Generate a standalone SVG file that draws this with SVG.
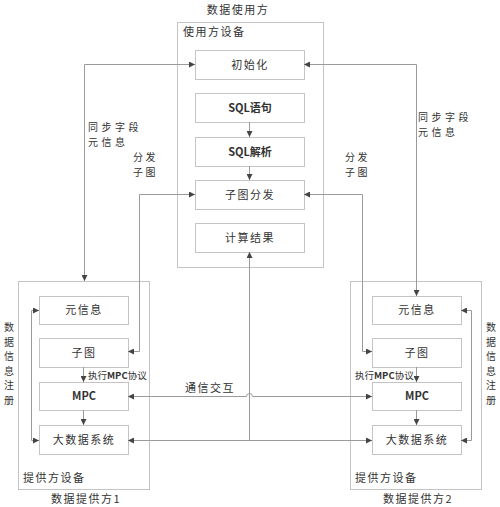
<svg xmlns="http://www.w3.org/2000/svg" width="500" height="507" viewBox="0 0 500 507">
<style>
text{font-family:"Noto Sans CJK SC","Liberation Sans",sans-serif;font-size:11px;fill:#333}
.c{text-anchor:middle}
.sp{letter-spacing:1.5px}
.b{font-weight:bold}
.v{font-size:10px;text-anchor:middle}
.lb{font-size:10px;letter-spacing:3.5px}
.lb2{font-size:10px;letter-spacing:2.5px}
.mpc{font-size:9.5px}
.box{fill:#fff;stroke:#c4c4c4;stroke-width:1}
.outer{fill:none;stroke:#c4c4c4;stroke-width:1}
.ln{fill:none;stroke:#9a9a9a;stroke-width:1}
</style>
<defs>
<marker id="ah" markerUnits="userSpaceOnUse" markerWidth="7" markerHeight="6" refX="6" refY="3" orient="auto-start-reverse">
<path d="M0,0 L6,3 L0,6 z" fill="#444"/>
</marker>
</defs>
<rect width="500" height="507" fill="#fff"/>

<g id="user">
<text x="238" y="14" class="c sp">数据使用方</text>
<rect class="outer" x="177.5" y="22.5" width="146" height="245"/>
<text x="183" y="36" class="sp">使用方设备</text>
</g>
<g id="init"><rect class="box" x="195.5" y="50.5" width="109" height="29"/><text x="250" y="69" class="c sp">初始化</text></g>
<g id="sql"><rect class="box" x="195.5" y="93.5" width="109" height="29"/><text x="250" y="112" class="c b">SQL语句</text></g>
<g id="parse"><rect class="box" x="195.5" y="137.5" width="109" height="29"/><text x="250" y="156" class="c b">SQL解析</text></g>
<g id="dispatch"><rect class="box" x="195.5" y="180.5" width="109" height="29"/><text x="250" y="199" class="c sp">子图分发</text></g>
<g id="result"><rect class="box" x="195.5" y="223.5" width="109" height="29"/><text x="250" y="242" class="c sp">计算结果</text></g>

<g id="provider1">
<rect class="outer" x="18.5" y="281.5" width="131" height="208"/>
<text x="23" y="482" class="sp">提供方设备</text>
<text x="86" y="503" class="c sp">数据提供方1</text>
<text x="9" y="331" class="v">数</text><text x="9" y="345.5" class="v">据</text><text x="9" y="360" class="v">信</text><text x="9" y="374.5" class="v">息</text><text x="9" y="389" class="v">注</text><text x="9" y="403.5" class="v">册</text>
</g>
<g id="p1-meta"><rect class="box" x="39.5" y="296.5" width="89" height="28"/><text x="84" y="314" class="c sp">元信息</text></g>
<g id="p1-sub"><rect class="box" x="39.5" y="338.5" width="89" height="29"/><text x="84" y="357" class="c sp">子图</text></g>
<g id="p1-mpc"><rect class="box" x="39.5" y="382.5" width="89" height="28"/><text x="84" y="400" class="c b">MPC</text></g>
<g id="p1-big"><rect class="box" x="39.5" y="425.5" width="89" height="29"/><text x="84" y="444" class="c sp">大数据系统</text></g>

<g id="provider2">
<rect class="outer" x="350.5" y="281.5" width="131" height="208"/>
<text x="355" y="482" class="sp">提供方设备</text>
<text x="418" y="503" class="c sp">数据提供方2</text>
<text x="491" y="331" class="v">数</text><text x="491" y="345.5" class="v">据</text><text x="491" y="360" class="v">信</text><text x="491" y="374.5" class="v">息</text><text x="491" y="389" class="v">注</text><text x="491" y="403.5" class="v">册</text>
</g>
<g id="p2-meta"><rect class="box" x="372.5" y="296.5" width="89" height="28"/><text x="417" y="314" class="c sp">元信息</text></g>
<g id="p2-sub"><rect class="box" x="372.5" y="338.5" width="89" height="29"/><text x="417" y="357" class="c sp">子图</text></g>
<g id="p2-mpc"><rect class="box" x="372.5" y="382.5" width="89" height="28"/><text x="417" y="400" class="c b">MPC</text></g>
<g id="p2-big"><rect class="box" x="372.5" y="425.5" width="89" height="29"/><text x="417" y="444" class="c sp">大数据系统</text></g>

<g id="connectors">
<path class="ln" d="M84.5,281 V64.5 H195" marker-start="url(#ah)" marker-end="url(#ah)"/>
<path class="ln" d="M304,64.5 H416.5 V296" marker-start="url(#ah)" marker-end="url(#ah)"/>
<path class="ln" d="M195,194.5 H139.5 V351.5 H128" marker-start="url(#ah)" marker-end="url(#ah)"/>
<path class="ln" d="M304,194.5 H362.5 V351.5 H372" marker-start="url(#ah)" marker-end="url(#ah)"/>
<path class="ln" d="M249.5,122 V137" marker-end="url(#ah)"/>
<path class="ln" d="M249.5,166 V180" marker-end="url(#ah)"/>
<path class="ln" d="M83.5,367 V382" marker-end="url(#ah)"/>
<path class="ln" d="M83.5,410 V425" marker-end="url(#ah)"/>
<path class="ln" d="M416.5,367 V382" marker-end="url(#ah)"/>
<path class="ln" d="M416.5,410 V425" marker-end="url(#ah)"/>
<path class="ln" d="M39,310.5 H31.5 V440.5 H39" marker-start="url(#ah)" marker-end="url(#ah)"/>
<path class="ln" d="M461,310.5 H471.5 V440.5 H461" marker-start="url(#ah)" marker-end="url(#ah)"/>
<path class="ln" d="M128,396.5 H246.5 A3,3 0 0 1 252.5,396.5 H372" marker-start="url(#ah)" marker-end="url(#ah)"/>
<path class="ln" d="M128,440.5 H372" marker-start="url(#ah)" marker-end="url(#ah)"/>
<path class="ln" d="M249.5,440.5 V252" marker-end="url(#ah)"/>
<text x="88" y="131" class="lb">同步字段</text>
<text x="88" y="145.5" class="lb">元信息</text>
<text x="418" y="121" class="lb">同步字段</text>
<text x="418" y="135.5" class="lb">元信息</text>
<text x="133" y="161" class="lb2">分发</text>
<text x="133" y="175.5" class="lb2">子图</text>
<text x="345" y="161" class="lb2">分发</text>
<text x="345" y="175.5" class="lb2">子图</text>
<text x="88" y="379" class="mpc">执行<tspan class="b">MPC</tspan>协议</text>
<text x="355" y="379" class="mpc">执行<tspan class="b">MPC</tspan>协议</text>
<text x="185" y="392" class="sp">通信交互</text>
</g>
</svg>
